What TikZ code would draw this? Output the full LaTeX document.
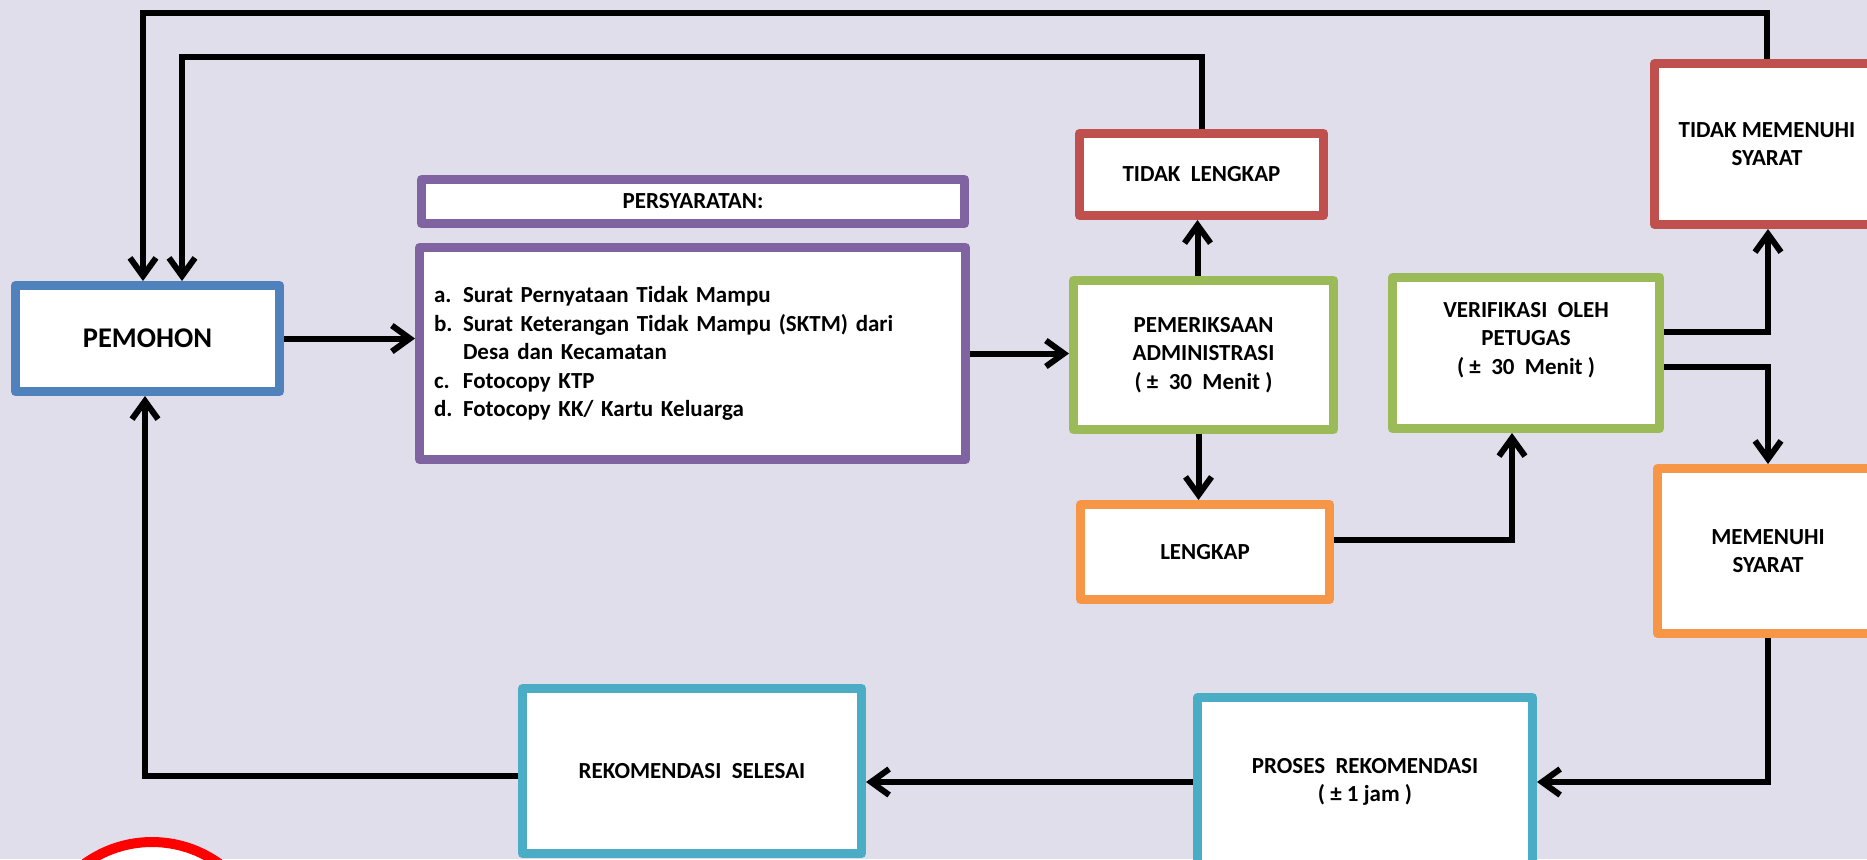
\documentclass[tikz,border=0pt]{standalone}
\usepackage{fontspec}
\setmainfont{Carlito}
\usetikzlibrary{arrows.meta}

\definecolor{bglav}{RGB}{225,222,236}
\definecolor{boxblue}{RGB}{79,129,189}
\definecolor{boxred}{RGB}{192,80,77}
\definecolor{boxgreen}{RGB}{155,187,89}
\definecolor{boxpurple}{RGB}{128,100,162}
\definecolor{boxteal}{RGB}{75,172,198}
\definecolor{boxorange}{RGB}{247,150,70}

\newcommand{\boxfont}{\fontsize{11.5pt}{14.25pt}\selectfont\bfseries}
\newcommand{\req}[2]{\makebox[14.5pt][l]{#1}#2}

\begin{document}
\begin{tikzpicture}[x=0.5pt, y=-0.5pt,
    box/.style={draw, fill=white, line width=4.5pt, line join=round, inner sep=0pt, align=center, font=\boxfont},
    flow/.style={line width=3pt, -{Straight Barb[length=9pt,width=13pt]}}]

  \useasboundingbox (0,0) rectangle (1867,859);
  \clip (0,0) rectangle (1867,859);
  \fill[bglav] (0,0) rectangle (1867,859);

  % boxes
  \node[box, draw=boxblue, minimum width=132pt, minimum height=53pt,
    font=\fontsize{14.25pt}{17pt}\selectfont\bfseries] (pemohon) at (147.5,338.5) {PEMOHON};
  \node[box, draw=boxpurple, minimum width=271.5pt, minimum height=22pt] (judul) at (693,201.5) {PERSYARATAN:};
  \node[box, draw=boxpurple, minimum width=273pt, minimum height=106pt, text width=258.5pt,
    inner xsep=7.25pt, align=left] (syarat) at (692.5,353.5)
    {\req{a.}{Surat Pernyataan Tidak Mampu}\\
     \req{b.}{Surat Keterangan Tidak Mampu (SKTM) dari}\\
     \hspace*{14.5pt}Desa dan Kecamatan\\
     \req{c.}{Fotocopy KTP}\\
     \req{d.}{Fotocopy KK/ Kartu Keluarga}};
  \node[box, draw=boxred, minimum width=122pt, minimum height=41pt] (tlengkap) at (1201.5,174.5) {TIDAK\ \ LENGKAP};
  \node[box, draw=boxgreen, minimum width=130pt, minimum height=74.5pt] (periksa) at (1203.5,355)
    {PEMERIKSAAN\\ADMINISTRASI\\( ±\ \ 30\ \ Menit )};
  \node[box, draw=boxgreen, minimum width=133.5pt, minimum height=75.5pt] (verif) at (1526,353) {};
  \node[font=\boxfont, align=center, inner sep=0pt] (veriftext) at (1526,340)
    {VERIFIKASI\ \ OLEH\\PETUGAS\\( ±\ \ 30\ \ Menit )};
  \node[box, draw=boxorange, minimum width=124.5pt, minimum height=47.5pt] (lengkap) at (1205,552) {LENGKAP};
  \node[box, draw=boxred, minimum width=112.5pt, minimum height=80.5pt] (tmsyarat) at (1767,144) {TIDAK MEMENUHI\\SYARAT};
  \node[box, draw=boxorange, minimum width=110.5pt, minimum height=82.5pt] (memenuhi) at (1768,551) {MEMENUHI\\SYARAT};
  \node[box, draw=boxteal, minimum width=167.5pt, minimum height=84.5pt] (proses) at (1365,782)
    {PROSES\ \ REKOMENDASI\\( ± 1 jam )};
  \node[box, draw=boxteal, minimum width=169.5pt, minimum height=82.5pt] (selesai) at (692,771) {REKOMENDASI\ \ SELESAI};

  % red circle at the bottom left
  \draw[red, line width=5pt, fill=white] (152,957) circle [radius=57.5pt];

  % connectors
  \coordinate (topa) at (143,13);
  \coordinate (topb) at (182,57);
  \coordinate (pa) at ([xshift=-3pt]periksa.north);
  \coordinate (pb) at ([xshift=-2.5pt]periksa.south);
  \coordinate (la) at (1512,540);
  \coordinate (va) at (1768,332);
  \coordinate (vb) at (1768,367);
  \coordinate (ra) at (145,776);

  \draw[flow] (pemohon.east) -- (pemohon.east -| syarat.west);
  \draw[flow] (syarat.east) -- (syarat.east -| periksa.west);
  \draw[flow] (pa) -- (pa |- tlengkap.south);
  \draw[flow] (tlengkap.north) |- (topb) -- (topb |- pemohon.north);
  \draw[flow] (tmsyarat.north) |- (topa) -- (topa |- pemohon.north);
  \draw[flow] (pb) -- (pb |- lengkap.north);
  \draw[flow] (lengkap.east |- la) -- (la) -- (la |- verif.south);
  \draw[flow] (verif.east |- va) -- (va) -- (va |- tmsyarat.south);
  \draw[flow] (verif.east |- vb) -- (vb) -- (vb |- memenuhi.north);
  \draw[flow] (memenuhi.south) |- (proses.east);
  \draw[flow] (proses.west) -- (proses.west -| selesai.east);
  \draw[flow] (selesai.west |- ra) -- (ra) -- (ra |- pemohon.south);
\end{tikzpicture}
\end{document}
